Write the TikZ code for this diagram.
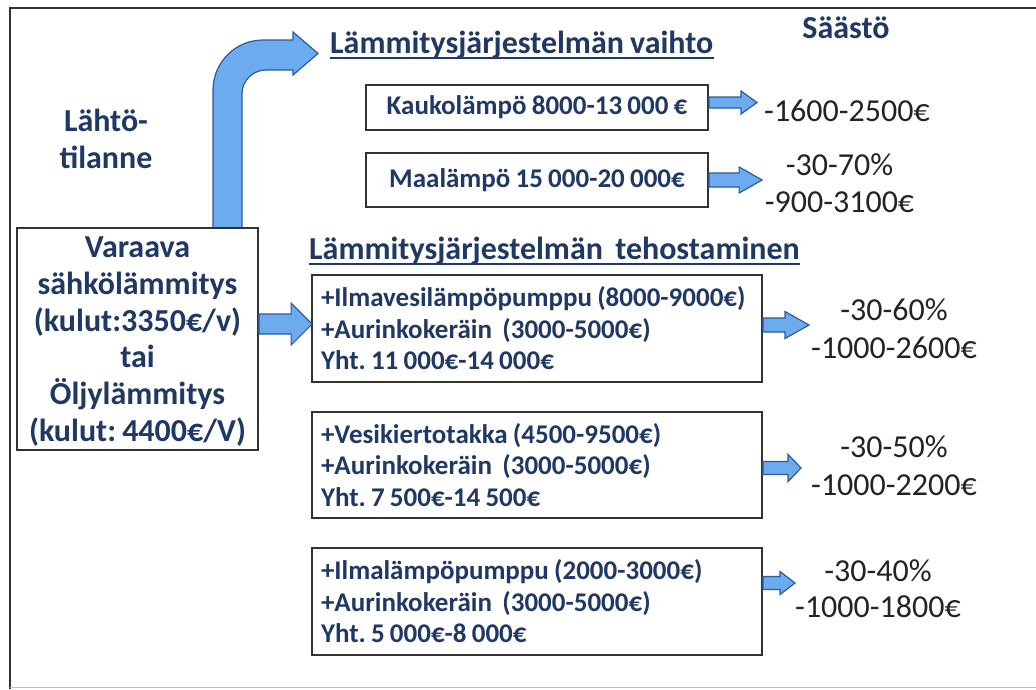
\documentclass[tikz,border=0pt]{standalone}
\usepackage{fontspec}
\setmainfont{Carlito}[WordSpace=0.85]
\frenchspacing
\usetikzlibrary{calc}
\definecolor{navy}{RGB}{31,56,100}
\definecolor{savecol}{RGB}{35,35,35}
\definecolor{arrowfill}{RGB}{108,172,238}
\definecolor{arrowline}{RGB}{45,90,160}
\definecolor{boxline}{RGB}{50,50,50}
\newcommand\tightsp{\spaceskip=0pt\xspaceskip=0pt\relax}
\newcommand\fatarrow[5]{%
  \path[fatarrowsty] let \p1=(#1), \p2=(#2) in
    ({\x1},{\y1+#3}) -- ({\x2-#5},{\y1+#3}) -- ({\x2-#5},{\y1+#4}) -- ({\x2},{\y1})
    -- ({\x2-#5},{\y1-#4}) -- ({\x2-#5},{\y1-#3}) -- ({\x1},{\y1-#3}) -- cycle;}
\tikzset{
  fatarrowsty/.style={fill=arrowfill, draw=arrowline, line width=1.2pt, line join=miter},
  boxsty/.style={draw=boxline, line width=1.8pt, inner sep=0pt},
  optbox/.style={boxsty, text=navy, font=\bfseries\fontsize{27}{31.5}\selectfont,
    text width=432pt, align=left, inner xsep=9pt, minimum width=450pt, minimum height=107pt},
  swbox/.style={boxsty, text=navy, font=\bfseries\fontsize{27}{31.5}\selectfont,
    minimum width=342pt},
  headsty/.style={text=navy, font=\bfseries\fontsize{32}{36}\selectfont, inner sep=0pt, anchor=base west},
  savesty/.style={text=savecol, font=\fontsize{32}{38}\selectfont, inner sep=0pt, align=center},
  leftsty/.style={text=navy, font=\bfseries\fontsize{32}{36.8}\selectfont, inner sep=0pt, align=center}
}
\begin{document}
\begin{tikzpicture}[x=1pt,y=-1pt]
\useasboundingbox (0,0) rectangle (1036,689);
\fill[white] (0,0) rectangle (1036,689);
% frame
\draw[line width=2pt, black!80] (1036,7.5) -- (9.5,7.5) -- (9.5,689);
\draw[line width=1pt, black!25] (9.5,687.5) -- (1036,687.5);

% bent arrow
\path[fatarrowsty] (213,228) -- (213,90) .. controls (213,62.4) and (235.4,40) .. (263,40)
  -- (293,40) -- (293,32) -- (318,53.5) -- (293,75) -- (293,70) -- (266,70)
  .. controls (252.7,70) and (242,80.7) .. (242,94) -- (242,228) -- cycle;

% left side
\node[leftsty] (lahto) at (106,139) {Lähtö-\\tilanne};
\node[boxsty, fill=white, minimum width=241pt, minimum height=222pt] (start) at (137.5,339) {};
\node[leftsty] (starttext) at (137.5,341.6) {\tightsp Varaava\\sähkölämmitys\\(kulut:3350€/v)\\tai\\Öljylämmitys\\(kulut: 4400€/V)};

% headings
\node[headsty] (h1) at (330,53) {Lämmitysjärjestelmän vaihto};
\draw[navy, line width=2pt] ([yshift=-5pt]h1.base west) -- ([yshift=-5pt]h1.base east);
\node[headsty] (h2) at (309,259) {Lämmitysjärjestelmän\ \ tehostaminen};
\draw[navy, line width=2pt] ([yshift=-5pt]h2.base west) -- ([yshift=-5pt]h2.base east);
\node[text=navy, font=\bfseries\fontsize{32}{36}\selectfont, inner sep=0pt, anchor=base] (saasto) at (846,38) {Säästö};

% switch boxes
\node[swbox, minimum height=45pt] (kauko) at (537,107.5) {Kaukolämpö 8000-13 000 €};
\node[swbox, minimum height=54pt] (maa) at (537,180) {Maalämpö 15 000-20 000€};

% option boxes
\node[optbox] (boxA) at (537,328.5) {\tightsp +Ilmavesilämpöpumppu (8000-9000€)\\+Aurinkokeräin\ \ (3000-5000€)\\Yht. 11 000€-14 000€};
\node[optbox, minimum height=106pt] (boxB) at (537,465) {\tightsp +Vesikiertotakka (4500-9500€)\\+Aurinkokeräin\ \ (3000-5000€)\\Yht. 7 500€-14 500€};
\node[optbox] (boxC) at (537,601.5) {\tightsp +Ilmalämpöpumppu (2000-3000€)\\+Aurinkokeräin\ \ (3000-5000€)\\Yht. 5 000€-8 000€};

% savings
\node[savesty, anchor=west] (save1) at (764,110.5) {-1600-2500€};
\node[savesty, font=\fontsize{32}{37}\selectfont] (save2) at (839.5,183.5) {-30-70\%\\-900-3100€};
\node[savesty] (save3) at (894,329) {-30-60\%\\-1000-2600€};
\node[savesty] (save4) at (894,466) {-30-50\%\\-1000-2200€};
\node[savesty, font=\fontsize{32}{36}\selectfont] (save5) at (878,588.6) {-30-40\%\\-1000-1800€};

% small arrows
\fatarrow{[yshift=15pt]start.east}{[xshift=1pt]boxA.west}{10pt}{21pt}{21pt}
\fatarrow{[yshift=5pt]kauko.east}{[xshift=-7pt]save1.west}{5.5pt}{11.5pt}{16pt}
\fatarrow{maa.east}{[xshift=-2.5pt]save2.west}{7pt}{13pt}{23pt}
\fatarrow{[yshift=3.5pt]boxA.east}{[xshift=-2pt]save3.west}{7pt}{13.5pt}{24pt}
\fatarrow{[yshift=-3pt]boxB.east}{[xshift=-10pt]save4.west}{6.5pt}{13.5pt}{13pt}
\fatarrow{[yshift=18.5pt]boxC.east}{save5.west}{6.5pt}{11.5pt}{15pt}
\end{tikzpicture}
\end{document}
